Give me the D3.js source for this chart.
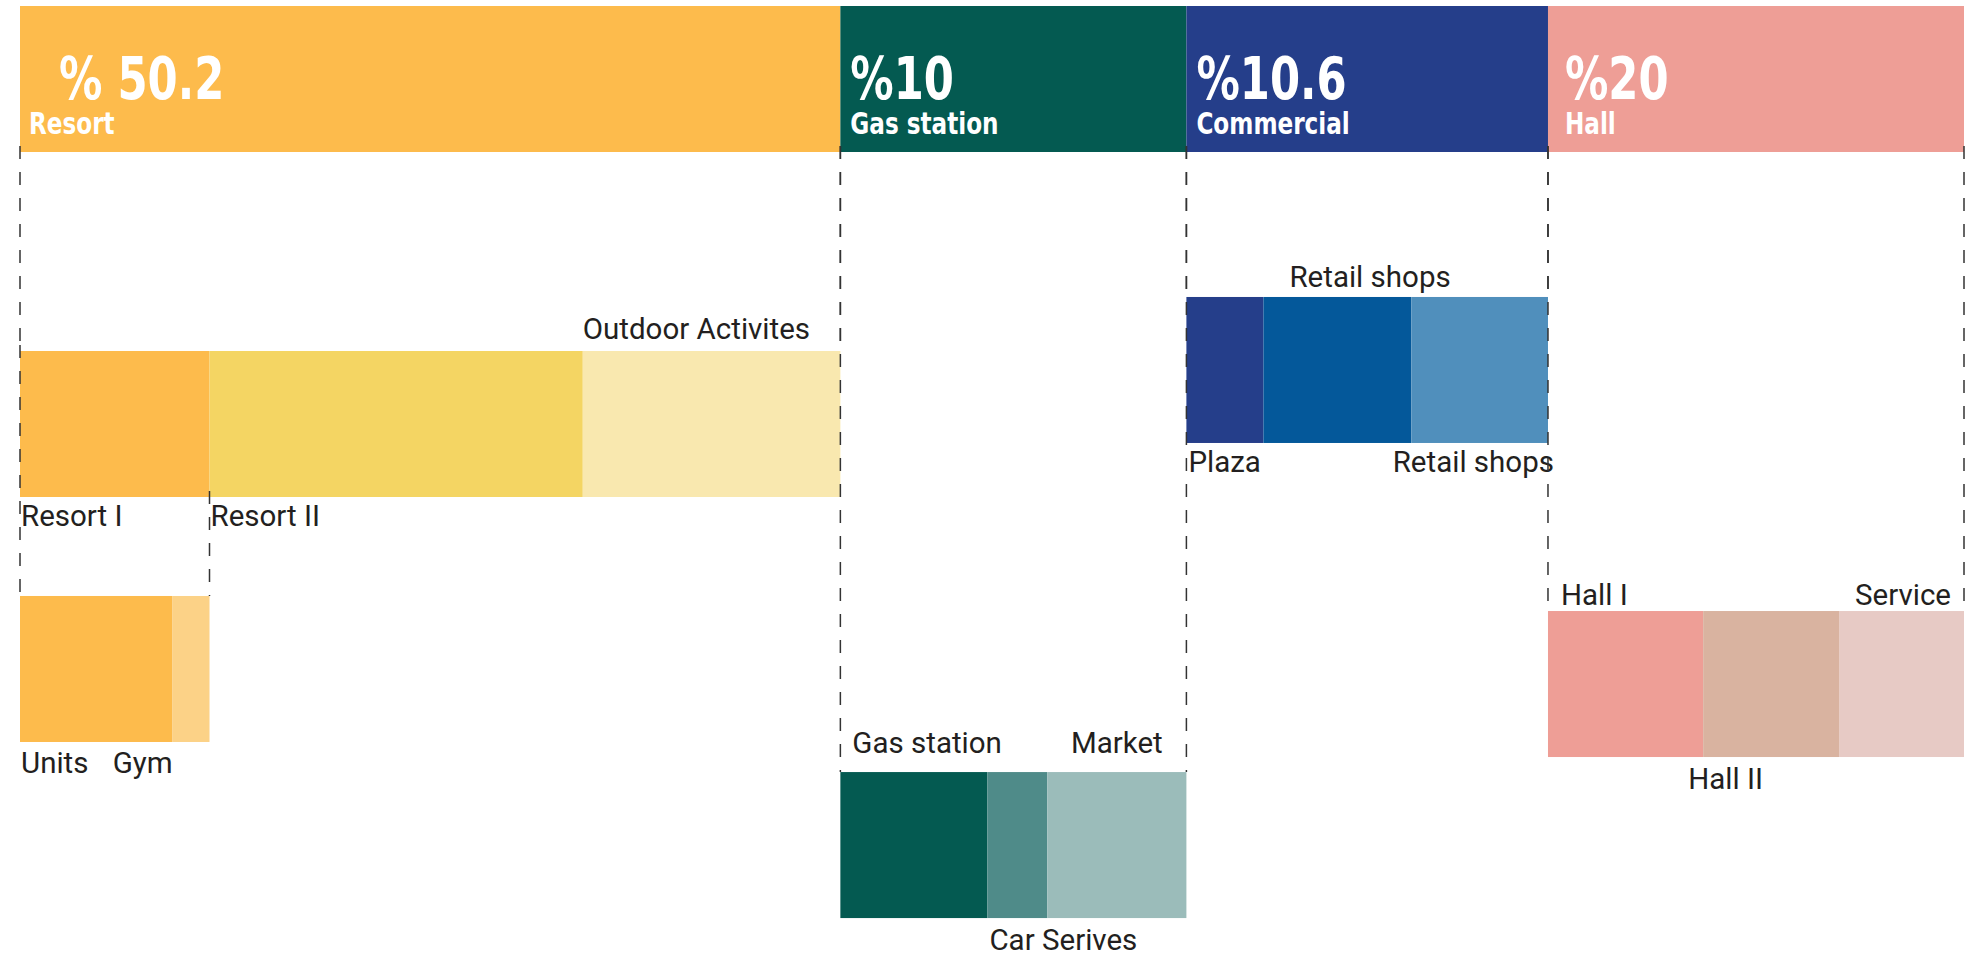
<!DOCTYPE html>
<html lang="en">
    <head>
        <meta charset="utf-8">
        <title>Land use breakdown</title>
        <script src="https://d3js.org/d3.v7.min.js"></script>
        <style type="text/css">
            body {
                margin: 0;
                background: #fff;
            }
            .pct, .area {
                font-family: "Liberation Sans Narrow", "DejaVu Sans Condensed", sans-serif;
                font-weight: bold;
                fill: #fff;
            }
            .sub-label {
                font-family: Roboto, "Noto Sans", sans-serif;
                fill: #231f20;
            }
        </style>
    </head>
    <body>
        <script>
        // main land uses (share of the strip width)
        const areas = ["Resort", "Gas station", "Commercial", "Hall"];
        const areaPct = [50.2, 10, 10.6, 20];
        const pctLabels = ["% 50.2", "%10", "%10.6", "%20"];
        const areaWidth = [42.2, 17.8, 18.6, 21.4];
        const areaColors = ["#FDBB4C", "#045A51", "#253E8A", "#EE9E96"];

        // second level: parts of each main use (share of parent width)
        const resortParts = ["Resort I", "Resort II", "Outdoor Activites"];
        const resortShare = [23.1, 45.5, 31.4];
        const resortColors = ["#FDBB4C", "#F4D563", "#F9E8AF"];

        const gasParts = ["Gas station", "Car Serives", "Market"];
        const gasShare = [42.5, 17.3, 40.2];
        const gasColors = ["#045A51", "#4F8B89", "#9BBCBA"];

        const commercialParts = ["Plaza", "Retail shops", "Retail shops"];
        const commercialShare = [21.3, 40.9, 37.8];
        const commercialColors = ["#253E8A", "#04589A", "#508FBC"];

        const hallParts = ["Hall I", "Hall II", "Service"];
        const hallShare = [37.3, 32.8, 29.9];
        const hallColors = ["#EE9E96", "#D9B3A0", "#E7CAC5"];

        // third level: Resort I
        const resortOneParts = ["Units", "Gym"];
        const resortOneShare = [80.5, 19.5];
        const resortOneColors = ["#FDBB4C", "#FCD287"];

        // vertical level of every row (in bar heights, top strip = 0)
        const subLevels = [2.363, 5.247, 1.993, 4.144];
        const resortOneLevel = 4.041;

        const width = 1984;
        const height = 957;
        const barH = 146;

        const xScale = d3.scaleLinear().domain([0, 100]).range([20, 1964]);
        const yScale = d3.scaleLinear().domain([0, 1]).range([6, 6 + barH]);

        // label placement per sub part: side, anchor, dx, dy
        const labelLayout = [
            [["below", "start", 1, 29], ["below", "start", 1, 29], ["above", "start", 0, -12]],
            [["above", "start", 12, -19], ["below", "start", 2, 32], ["above", "middle", 0, -19]],
            [["below", "start", 2, 29], ["above", "start", 26, -10], ["below", "end", 6, 29]],
            [["above", "start", 13, -6], ["below", "start", -15, 32], ["above", "end", -13, -6]]
        ];
        const resortOneLayout = [["below", "start", 1, 31], ["below", "x0end", 0, 31]];

        const svg = d3.select("body")
                    .append("svg")
                    .attr("width", width)
                    .attr("height", height);

        // cumulative positions of the top strip
        const starts = d3.cumsum([0].concat(areaWidth));
        const mainAreas = areas.map((name, i) => ({
            name: name,
            pct: areaPct[i],
            label: pctLabels[i],
            x0: xScale(starts[i]),
            x1: xScale(starts[i + 1]),
            color: areaColors[i]
        }));

        function split(parentX0, parentX1, names, shares, colors) {
            const sx = d3.scaleLinear().domain([0, 100]).range([parentX0, parentX1]);
            const c = d3.cumsum([0].concat(shares));
            return names.map((n, i) => ({ name: n, x0: sx(c[i]), x1: sx(c[i + 1]), color: colors[i] }));
        }

        const groups = [
            split(mainAreas[0].x0, mainAreas[0].x1, resortParts, resortShare, resortColors),
            split(mainAreas[1].x0, mainAreas[1].x1, gasParts, gasShare, gasColors),
            split(mainAreas[2].x0, mainAreas[2].x1, commercialParts, commercialShare, commercialColors),
            split(mainAreas[3].x0, mainAreas[3].x1, hallParts, hallShare, hallColors)
        ];
        const resortOne = split(groups[0][0].x0, groups[0][0].x1, resortOneParts, resortOneShare, resortOneColors);

        // top strip
        svg.selectAll("rect.top")
            .data(mainAreas)
            .enter()
            .append("rect")
            .attr("class", "top")
            .attr("x", d => d.x0)
            .attr("y", yScale(0))
            .attr("width", d => d.x1 - d.x0)
            .attr("height", yScale(1) - yScale(0))
            .attr("fill", d => d.color);

        // condensed look: squeeze the bold labels horizontally
        const squeeze = 0.83;
        const pctDx = [39, 10, 10, 17];
        const nameDx = [9, 10, 10, 17];
        svg.selectAll("text.pct")
            .data(mainAreas)
            .enter()
            .append("text")
            .attr("class", "pct")
            .attr("transform", (d, i) => "translate(" + (d.x0 + pctDx[i]) + ",99) scale(" + squeeze + ",1)")
            .attr("font-size", 58)
            .text(d => d.label);

        svg.selectAll("text.area")
            .data(mainAreas)
            .enter()
            .append("text")
            .attr("class", "area")
            .attr("transform", (d, i) => "translate(" + (d.x0 + nameDx[i]) + ",134) scale(" + squeeze + ",1)")
            .attr("font-size", 31)
            .text(d => d.name);

        function drawRow(parts, level, layout) {
            const g = svg.append("g");
            g.selectAll("rect")
                .data(parts)
                .enter()
                .append("rect")
                .attr("x", d => d.x0)
                .attr("y", yScale(level))
                .attr("width", d => d.x1 - d.x0)
                .attr("height", yScale(level + 1) - yScale(level))
                .attr("fill", d => d.color);

            g.selectAll("text")
                .data(parts)
                .enter()
                .append("text")
                .attr("class", "sub-label")
                .attr("font-size", 29.5)
                .attr("text-anchor", (d, i) => {
                    const a = layout[i][1];
                    return a === "x0end" ? "end" : a;
                })
                .attr("x", (d, i) => {
                    const a = layout[i][1];
                    let base = d.x0;
                    if (a === "middle") base = (d.x0 + d.x1) / 2;
                    if (a === "end") base = d.x1;
                    return base + layout[i][2];
                })
                .attr("y", (d, i) => {
                    const base = layout[i][0] === "above" ? yScale(level) : yScale(level + 1);
                    return base + layout[i][3];
                })
                .text(d => d.name);
        }

        groups.forEach((parts, i) => drawRow(parts, subLevels[i], labelLayout[i]));
        drawRow(resortOne, resortOneLevel, resortOneLayout);

        // dashed guide lines
        const guides = [];
        mainAreas.forEach((d, i) => {
            const lvl = subLevels[i];
            guides.push({ x: d.x0, from: 1, to: lvl });
            guides.push({ x: d.x1, from: 1, to: lvl });
        });
        guides.push({ x: groups[0][0].x0, from: subLevels[0], to: resortOneLevel });
        guides.push({ x: groups[0][0].x1, from: subLevels[0] + 1, to: resortOneLevel });

        svg.selectAll("line.guide")
            .data(guides)
            .enter()
            .append("line")
            .attr("class", "guide")
            .attr("x1", d => d.x)
            .attr("x2", d => d.x)
            .attr("y1", d => yScale(d.from) - 6)
            .attr("y2", d => yScale(d.to))
            .attr("stroke", "#333")
            .attr("stroke-width", 1.5)
            .attr("stroke-dasharray", "13,13");
        </script>
    </body>
</html>
